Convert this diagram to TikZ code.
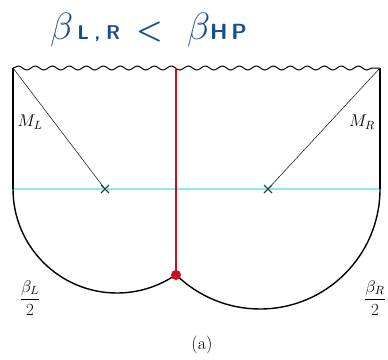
\documentclass[tikz,border=0pt]{standalone}
\usepackage{fix-cm}
\usepackage{amsmath,amssymb,bm}
\usetikzlibrary{decorations.pathmorphing,shapes.misc}
\definecolor{hand}{HTML}{1A4C96}
\definecolor{cyanline}{HTML}{8CEAF2}
\definecolor{redline}{HTML}{C8101E}
\definecolor{xmark}{HTML}{1E3A3C}
\tikzset{
  wall/.style={line width=1.4pt,black},
  wavy/.style={line width=1.0pt,black,decorate,decoration={snake,segment length=17pt,amplitude=2pt}},
  radial/.style={line width=0.6pt,black!85},
  xnode/.style={cross out,draw=xmark,line width=0.9pt,minimum size=7pt,inner sep=0pt},
  lbl/.style={font=\fontsize{17}{19}\selectfont,inner sep=0pt},
}
\begin{document}
\begin{tikzpicture}[x=1pt,y=-1pt]
\useasboundingbox (0,0) rectangle (388,359);
% handwritten title
\node[text=hand,inner sep=0pt,anchor=base west] (title) at (50,39)
  {{\fontsize{38}{38}\selectfont$\beta$}\hspace{4pt}{\fontsize{20}{20}\selectfont\sffamily\bfseries L\;,\;R}\hspace{16pt}{\fontsize{30}{30}\selectfont$\bm{<}$}\hspace{24pt}{\fontsize{38}{38}\selectfont$\beta$}{\fontsize{22}{22}\selectfont\sffamily\bfseries H\,P}};
% corners and key points
\coordinate (TL) at (13,68);
\coordinate (TR) at (380,68);
\coordinate (ML) at (13,189);
\coordinate (MR) at (380,189);
\coordinate (redtop) at (176,68);
\node[xnode] (xl) at (105,189) {};
\node[xnode] (xr) at (268,189) {};
% cyan horizontal slice
\draw[cyanline,line width=2.6pt] (ML) -- (MR);
% walls
\draw[wall] (TL) -- (ML);
\draw[wall] (TR) -- (MR);
% bottom arcs
\draw[wall] (ML) arc[start angle=180,end angle=55.5,radius=104];
\draw[wall] (MR) arc[start angle=0,end angle=134.3,radius=120];
% wavy singularity
\draw[wavy] (TL) -- (TR);
% radial lines
\draw[radial] (TL) -- (xl.center);
\draw[radial] (TR) -- (xr.center);
\node[xnode] at (xl) {};
\node[xnode] at (xr) {};
% red line and dot
\node[circle,fill=redline,minimum size=10pt,inner sep=0pt] (dot) at (176,275) {};
\draw[redline,line width=2.6pt] (redtop) -- (dot.center);
% labels
\node[lbl] (mL) at (30,122) {$M_L$};
\node[lbl] (mR) at (362,122) {$M_R$};
\node[lbl] (bL) at (30,298) {$\displaystyle\frac{\beta_L}{2}$};
\node[lbl] (bR) at (375,298) {$\displaystyle\frac{\beta_R}{2}$};
\node[inner sep=0pt,font=\fontsize{18}{20}\selectfont] (cap) at (202,345) {(a)};
\end{tikzpicture}
\end{document}
